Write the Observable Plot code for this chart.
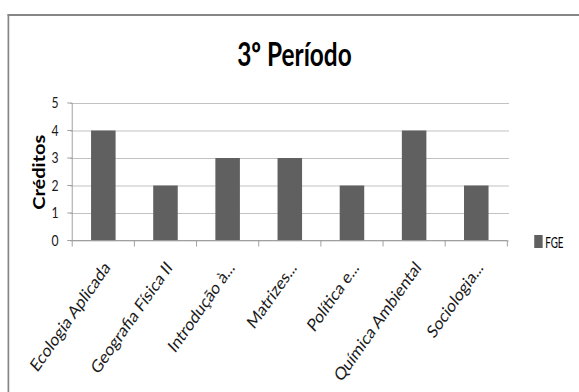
<!DOCTYPE html>
<html>
<head>
<meta charset="utf-8">
<script src="https://cdn.jsdelivr.net/npm/d3@7"></script>
<script src="https://cdn.jsdelivr.net/npm/@observablehq/plot@0.6"></script>
<style>
  html, body { margin: 0; padding: 0; background: #fff; }
  #wrap { position: relative; width: 579px; height: 392px; overflow: hidden; background: #fff; }
  #inner { position: absolute; left: 0; top: 0; width: 689px; height: 392px;
           transform: scaleX(0.84); transform-origin: 0 0; font-family: Lato, "Open Sans", sans-serif; }
  #frame { position: absolute; left: 9px; top: 14px; width: 900px; height: 600px;
           border-left: 2.4px solid #868686; border-top: 2px solid #868686; }
  #title { position: absolute; left: 0; width: 702px; top: 37px; text-align: center; }
  #title span { display: inline-block; font-size: 33px; line-height: 33px; font-weight: bold; color: #000;
                transform: scaleX(0.88); transform-origin: 50% 50%; }
  #legend { position: absolute; left: 636px; top: 232.5px; display: flex; align-items: center;
            font-size: 15px; color: #000; }
  #legend .key { width: 9.5px; height: 13px; background: #606060; margin-right: 3px; }
  #legend span { display: inline-block; transform: scaleX(0.78); transform-origin: 0 50%; }
  #chart { position: absolute; left: 0; top: 0; }
</style>
</head>
<body>
<div id="wrap">
  <div id="inner">
    <div id="frame"></div>
    <div id="chart"></div>
    <div id="title"><span id="titleText"></span></div>
    <div id="legend"><div class="key"></div><span id="legendText"></span></div>
  </div>
</div>
<script>
const title = "3º Período";
const yLabel = "Créditos";
const seriesName = "FGE";
const categories = ["Ecologia Aplicada", "Geografia Física II", "Introdução à...", "Matrizes...", "Política e...", "Química Ambiental", "Sociologia..."];
const creditos = [4, 2, 3, 3, 2, 4, 2];
const yTicks = [0, 1, 2, 3, 4, 5];

const data = categories.map((c, i) => ({category: c, value: creditos[i]}));

document.getElementById("titleText").textContent = title;
document.getElementById("legendText").textContent = seriesName;

const axisColor = "#9a9a9a";

function axisLines(index, scales, values, dims) {
  const {x, y} = scales;
  const step = x(categories[1]) - x(categories[0]);
  const edges = categories.map(c => x(c)).concat([x(categories[categories.length - 1]) + step]);
  const y0 = y(yTicks[0]);
  const yTop = y(yTicks[yTicks.length - 1]);
  const g = d3.create("svg:g").attr("stroke", axisColor).attr("fill", "none").attr("stroke-width", 1);
  g.append("line").attr("x1", edges[0]).attr("x2", edges[0]).attr("y1", yTop).attr("y2", y0);
  for (const t of yTicks) {
    g.append("line").attr("x1", edges[0] - 6).attr("x2", edges[0]).attr("y1", y(t)).attr("y2", y(t));
  }
  g.append("line").attr("x1", edges[0]).attr("x2", edges[edges.length - 1]).attr("y1", y0).attr("y2", y0);
  for (const e of edges) {
    g.append("line").attr("x1", e).attr("x2", e).attr("y1", y0).attr("y2", y0 + 6);
  }
  return g.node();
}

const plot = Plot.plot({
  width: 689,
  height: 392,
  marginLeft: 83.3,
  marginRight: 83,
  marginTop: 103,
  marginBottom: 151.5,
  style: {fontFamily: "Lato, 'Open Sans', sans-serif", background: "transparent", color: "#000"},
  x: {domain: categories, padding: 0, axis: null},
  y: {domain: [yTicks[0], yTicks[yTicks.length - 1]], axis: null},
  marks: [
    Plot.gridY(yTicks, {stroke: "#bdbdbd", strokeOpacity: 1}),
    Plot.barY(data, {x: "category", y: "value", fill: "#606060", insetLeft: 22.4, insetRight: 22.4}),
    axisLines,
    Plot.axisY({ticks: yTicks, tickFormat: d3.format("d"), tickSize: 0, tickPadding: 14, fontSize: 14.5, fill: "#1a1a1a", label: null}),
    Plot.text(categories, {x: d => d, frameAnchor: "bottom", rotate: -50, textAnchor: "end",
      lineAnchor: "top", dx: -1, dy: 19, fontSize: 18, fill: "#1a1a1a"}),
    Plot.text([yLabel], {frameAnchor: "left", y: () => (yTicks[0] + yTicks[yTicks.length - 1]) / 2,
      rotate: -90, textAnchor: "middle", dx: -37, fontSize: 20, fontWeight: "bold", fill: "#000"})
  ]
});
document.getElementById("chart").appendChild(plot);
</script>
</body>
</html>
